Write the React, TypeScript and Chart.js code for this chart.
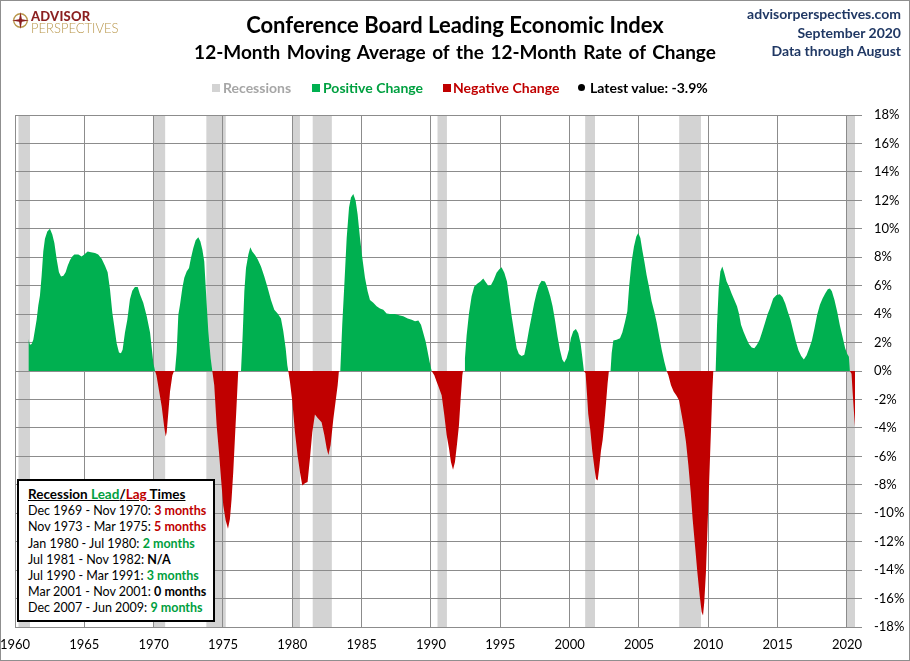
import { useEffect, useRef } from 'react';
import { Chart, registerables } from 'chart.js';

Chart.register(...registerables);

// 12-month moving average of the 12-month rate of change (%)
const years = [
  1960.96, 1961.08, 1961.2, 1961.32, 1961.44, 1961.56, 1961.68, 1961.8, 1961.92, 1962.04,
  1962.16, 1962.33, 1962.52, 1962.69, 1962.84, 1963.0, 1963.17, 1963.32, 1963.49, 1963.65,
  1963.8, 1963.97, 1964.13, 1964.28, 1964.57, 1964.8, 1965.0, 1965.24, 1965.48, 1965.77,
  1966.0, 1966.25, 1966.49, 1966.68, 1966.85, 1967.02, 1967.16, 1967.33, 1967.5, 1967.64,
  1967.76, 1967.93, 1968.1, 1968.29, 1968.46, 1968.65, 1968.85, 1969.01, 1969.25, 1969.5,
  1969.74, 1969.98, 1970.1, 1970.2, 1970.34, 1970.58, 1970.77, 1970.87, 1970.94, 1971.06,
  1971.18, 1971.35, 1971.47, 1971.54, 1971.66, 1971.78, 1971.9, 1972.07, 1972.21, 1972.38,
  1972.55, 1972.69, 1972.86, 1973.03, 1973.22, 1973.37, 1973.51, 1973.65, 1973.8, 1973.94,
  1974.11, 1974.23, 1974.37, 1974.54, 1974.71, 1974.86, 1975.02, 1975.19, 1975.36, 1975.5,
  1975.62, 1975.74, 1975.86, 1975.98, 1976.1, 1976.3, 1976.42, 1976.54, 1976.66, 1976.83,
  1976.97, 1977.11, 1977.31, 1977.5, 1977.74, 1977.98, 1978.22, 1978.46, 1978.7, 1978.94,
  1979.18, 1979.35, 1979.52, 1979.64, 1979.71, 1979.83, 1980.0, 1980.19, 1980.38, 1980.55,
  1980.72, 1980.91, 1981.1, 1981.27, 1981.44, 1981.63, 1981.83, 1982.11, 1982.31, 1982.48,
  1982.6, 1982.76, 1982.96, 1983.12, 1983.27, 1983.36, 1983.46, 1983.6, 1983.75, 1983.92,
  1984.09, 1984.23, 1984.4, 1984.57, 1984.71, 1984.88, 1985.05, 1985.24, 1985.43, 1985.6,
  1985.84, 1986.08, 1986.32, 1986.56, 1986.8, 1987.04, 1987.4, 1987.76, 1988.0, 1988.32,
  1988.61, 1988.85, 1989.09, 1989.28, 1989.45, 1989.62, 1989.76, 1989.9, 1990.05, 1990.24,
  1990.41, 1990.58, 1990.77, 1990.96, 1991.13, 1991.3, 1991.44, 1991.59, 1991.73, 1991.87,
  1992.02, 1992.14, 1992.26, 1992.31, 1992.4, 1992.45, 1992.57, 1992.74, 1992.93, 1993.12,
  1993.36, 1993.56, 1993.77, 1993.94, 1994.13, 1994.33, 1994.52, 1994.73, 1994.93, 1995.09,
  1995.29, 1995.48, 1995.62, 1995.82, 1996.01, 1996.18, 1996.34, 1996.54, 1996.73, 1996.9,
  1997.07, 1997.26, 1997.45, 1997.62, 1997.79, 1997.98, 1998.22, 1998.41, 1998.6, 1998.77,
  1998.94, 1999.13, 1999.3, 1999.47, 1999.61, 1999.78, 1999.95, 2000.09, 2000.26, 2000.45,
  2000.62, 2000.79, 2000.91, 2001.03, 2001.15, 2001.25, 2001.34, 2001.49, 2001.63, 2001.78,
  2001.9, 2002.02, 2002.14, 2002.26, 2002.38, 2002.5, 2002.62, 2002.74, 2002.83, 2002.95,
  2003.03, 2003.15, 2003.39, 2003.63, 2003.8, 2003.99, 2004.16, 2004.3, 2004.47, 2004.64,
  2004.81, 2004.95, 2005.1, 2005.24, 2005.39, 2005.55, 2005.72, 2005.91, 2006.11, 2006.27,
  2006.44, 2006.64, 2006.83, 2007.0, 2007.12, 2007.31, 2007.5, 2007.72, 2007.89, 2008.08,
  2008.25, 2008.39, 2008.56, 2008.73, 2008.87, 2009.04, 2009.21, 2009.38, 2009.52, 2009.62,
  2009.71, 2009.83, 2009.95, 2010.07, 2010.19, 2010.29, 2010.36, 2010.53, 2010.63, 2010.75,
  2010.87, 2011.01, 2011.15, 2011.32, 2011.49, 2011.68, 2011.88, 2012.07, 2012.21, 2012.36,
  2012.55, 2012.74, 2012.93, 2013.13, 2013.32, 2013.51, 2013.7, 2013.9, 2014.09, 2014.28,
  2014.44, 2014.68, 2014.92, 2015.16, 2015.35, 2015.55, 2015.74, 2015.93, 2016.12, 2016.32,
  2016.51, 2016.7, 2016.89, 2017.09, 2017.28, 2017.47, 2017.66, 2017.85, 2018.05, 2018.24,
  2018.43, 2018.62, 2018.77, 2018.91, 2019.1, 2019.3, 2019.49, 2019.68, 2019.87, 2020.02,
  2020.14, 2020.21, 2020.33, 2020.4, 2020.48, 2020.58,
];
const values = [
  2.25, 1.85, 1.9, 2.2, 2.9, 3.6, 4.6, 5.3, 6.7, 8.4,
  9.3, 9.8, 10.0, 9.6, 9.0, 7.9, 6.95, 6.65, 6.7, 6.95,
  7.4, 7.8, 8.05, 8.2, 8.2, 8.05, 8.2, 8.4, 8.35, 8.3,
  8.2, 7.9, 7.4, 6.95, 5.75, 4.1, 3.15, 1.95, 1.3, 1.25,
  1.5, 2.7, 3.6, 5.05, 5.65, 5.9, 5.9, 5.4, 4.8, 3.85,
  2.7, 0.55, 0, -0.3, -1.1, -2.5, -4.0, -4.6, -4.3, -2.9,
  -1.45, -0.3, 0, 0, 1.35, 3.95, 4.65, 5.85, 6.55, 7.0,
  7.25, 7.95, 8.65, 9.2, 9.4, 9.1, 8.55, 7.7, 5.1, 2.8,
  0.9, 0, -1.0, -3.8, -5.7, -7.6, -9.45, -10.5, -11.1, -10.4,
  -9.0, -7.1, -4.75, -2.4, 0, 0, 2.55, 5.6, 7.25, 8.2,
  8.7, 8.4, 8.15, 7.85, 7.35, 6.65, 5.85, 5.0, 4.3, 4.05,
  3.7, 2.8, 1.6, 0.4, 0, -0.75, -2.15, -4.3, -5.95, -7.1,
  -8.05, -7.9, -7.8, -6.15, -4.3, -3.05, -3.3, -3.6, -4.5, -5.45,
  -5.9, -5.2, -3.35, -2.15, -1.0, 0, 0, 3.25, 6.05, 9.35,
  11.5, 12.2, 12.45, 11.95, 11.0, 9.35, 7.95, 6.55, 5.6, 5.0,
  4.8, 4.55, 4.4, 4.3, 4.05, 4.0, 4.0, 3.9, 3.85, 3.7,
  3.6, 3.5, 3.55, 3.25, 2.65, 2.05, 1.35, 0.65, 0, -0.3,
  -0.75, -1.2, -1.7, -3.1, -4.5, -5.45, -6.4, -6.95, -6.4, -5.2,
  -3.8, -1.95, -0.3, 0, 0, 0.9, 2.5, 4.05, 5.25, 5.95,
  6.15, 6.3, 6.5, 6.25, 6.0, 6.05, 6.4, 6.9, 7.15, 7.3,
  6.9, 6.3, 5.25, 3.85, 2.65, 1.6, 1.2, 1.05, 1.15, 1.95,
  2.9, 3.85, 4.8, 5.5, 6.05, 6.35, 6.3, 5.85, 5.25, 4.55,
  3.6, 2.4, 1.5, 0.8, 0.6, 0.9, 1.5, 2.3, 2.8, 2.95,
  2.65, 1.95, 1.0, 0, -0.15, -1.6, -3.0, -4.15, -5.6, -6.75,
  -7.6, -7.7, -6.75, -5.6, -4.85, -3.7, -2.3, -0.85, 0, 0,
  1.25, 2.15, 2.2, 2.3, 2.7, 3.45, 4.2, 6.05, 7.7, 8.75,
  9.45, 9.7, 9.35, 8.5, 7.7, 6.75, 5.95, 4.9, 4.15, 3.45,
  2.55, 1.5, 0.65, 0, -0.3, -1.0, -1.45, -1.75, -2.05, -3.1,
  -4.05, -5.0, -6.6, -8.5, -10.4, -12.25, -14.15, -15.8, -16.95, -17.2,
  -16.25, -14.15, -10.85, -7.55, -4.25, -1.45, 0, 0, 3.25, 5.8,
  7.0, 7.35, 6.9, 6.3, 5.95, 5.45, 5.0, 4.55, 4.05, 3.25,
  2.75, 2.3, 1.9, 1.65, 1.6, 1.85, 2.2, 2.8, 3.4, 4.0,
  4.4, 5.1, 5.35, 5.4, 5.2, 4.75, 4.15, 3.6, 2.85, 2.05,
  1.45, 1.05, 0.8, 1.1, 1.6, 2.15, 3.0, 3.95, 4.65, 5.1,
  5.45, 5.75, 5.8, 5.6, 5.0, 4.15, 3.2, 2.4, 1.6, 1.2,
  1.0, 0, -0.2, -1.35, -2.55, -3.9,
];

// recession periods (fractional years)
const recessionStart = [1960.25, 1969.95, 1973.8, 1980.0, 1981.47, 1990.47, 2001.12, 2007.9, 2019.97];
const recessionEnd = [1961.08, 1970.83, 1975.2, 1980.55, 1982.85, 1991.15, 2001.83, 2009.47, 2020.58];

const leadLagPeriods = [
  'Dec 1969 - Nov 1970: ',
  'Nov 1973 - Mar 1975: ',
  'Jan 1980 - Jul 1980: ',
  'Jul 1981 - Nov 1982: ',
  'Jul 1990 - Mar 1991: ',
  'Mar 2001 - Nov 2001: ',
  'Dec 2007 - Jun 2009: ',
];
const leadLagTimes = ['3 months', '5 months', '2 months', 'N/A', '3 months', '0 months', '9 months'];
const leadLagColors = ['#c00000', '#c00000', '#00a040', '#000', '#00a040', '#000', '#00a040'];

const GREEN = '#00b050';
const RED = '#c00000';
const GRID = '#8c8c8c';
const FONT = 'Lato, "Open Sans", sans-serif';

const recessionBands = {
  id: 'recessionBands',
  beforeDraw(chart: Chart) {
    const { ctx, chartArea, scales } = chart;
    const x = scales.x;
    ctx.save();
    ctx.fillStyle = '#d3d3d3';
    recessionStart.forEach((s, i) => {
      const x1 = x.getPixelForValue(s);
      const x2 = Math.min(x.getPixelForValue(recessionEnd[i]), chartArea.right);
      ctx.fillRect(x1, chartArea.top, x2 - x1, chartArea.bottom - chartArea.top);
    });
    ctx.restore();
  },
};

function LeiChart() {
  const canvasRef = useRef<HTMLCanvasElement>(null);

  useEffect(() => {
    if (!canvasRef.current) return;
    const chart = new Chart(canvasRef.current, {
      type: 'line',
      data: {
        datasets: [
          {
            data: years.map((x, i) => ({ x, y: values[i] })),
            fill: { target: 'origin', above: GREEN, below: RED },
            borderWidth: 0,
            borderColor: 'transparent',
            pointRadius: 0,
            tension: 0,
          },
        ],
      },
      options: {
        animation: false,
        responsive: false,
        layout: { padding: { left: 15, top: 115, right: 0, bottom: 0 } },
        plugins: { legend: { display: false }, tooltip: { enabled: false } },
        scales: {
          x: {
            type: 'linear',
            min: 1960,
            max: 2020.58,
            afterFit: (s: any) => {
              s.height = 34;
              s.paddingLeft = 0;
              s.paddingRight = 0;
            },
            ticks: {
              stepSize: 5,
              includeBounds: false,
              autoSkip: false,
              maxRotation: 0,
              padding: 10,
              color: '#000',
              font: { family: FONT, size: 13 },
              callback: (v: any) => String(v),
            },
            grid: { color: GRID, lineWidth: 1, drawTicks: false },
            border: { display: false },
          },
          y: {
            position: 'right',
            min: -18,
            max: 18,
            afterFit: (s: any) => {
              s.width = 55;
              s.paddingTop = 0;
              s.paddingBottom = 0;
            },
            ticks: {
              stepSize: 2,
              padding: 12,
              color: '#000',
              font: { family: FONT, size: 13 },
              callback: (v: any) => v + '%',
            },
            grid: { color: GRID, lineWidth: 1, tickLength: 7 },
            border: { display: false },
          },
        },
      },
      plugins: [recessionBands],
    });
    return () => chart.destroy();
  }, []);

  return <canvas ref={canvasRef} width={910} height={661} style={{ position: 'absolute', left: 0, top: 0 }} />;
}

const abs = (style: React.CSSProperties): React.CSSProperties => ({ position: 'absolute', whiteSpace: 'nowrap', ...style });

export default function App() {
  return (
    <div style={{ position: 'fixed', left: 0, top: 0, width: 910, height: 661, background: '#fff', fontFamily: FONT, overflow: 'hidden' }}>
      <LeiChart />
      <div style={abs({ left: 0, top: 0, width: 910, height: 661, boxSizing: 'border-box', border: '1px solid #8f8f8f', pointerEvents: 'none' })} />

      {/* logo */}
      <svg style={abs({ left: 12, top: 12 })} width={17} height={17} viewBox="0 0 20 20">
        <circle cx="10" cy="10" r="8" fill="none" stroke="#b8964a" strokeWidth="1.6" />
        <polygon points="10,0 11.6,8.4 20,10 11.6,11.6 10,20 8.4,11.6 0,10 8.4,8.4" fill="#8b1f1f" />
      </svg>
      <div style={abs({ left: 31, top: 9, fontSize: 13, fontWeight: 900, color: '#8b1f1f', lineHeight: '14px', letterSpacing: 0.2 })}>ADVISOR</div>
      <div style={abs({ left: 31, top: 21, fontSize: 13, fontWeight: 300, color: '#b8964a', lineHeight: '14px' })}>PERSPECTIVES</div>

      {/* titles */}
      <div style={abs({ left: 0, top: 11, width: 910, textAlign: 'center', fontSize: 22, fontWeight: 700, lineHeight: '28px' })}>
        Conference Board Leading Economic Index
      </div>
      <div style={abs({ left: 0, top: 40, width: 910, textAlign: 'center', fontSize: 19, fontWeight: 700, lineHeight: '24px', wordSpacing: 2 })}>
        12-Month Moving Average of the 12-Month Rate of Change
      </div>
      <div style={abs({ right: 9, top: 5, textAlign: 'right', fontSize: 14, fontWeight: 700, color: '#203864', lineHeight: '18.5px' })}>
        advisorperspectives.com<br />September 2020<br />Data through August
      </div>

      {/* legend */}
      <div style={abs({ left: 0, top: 79, width: 910, height: 18, fontSize: 14, fontWeight: 700, lineHeight: '18px' })}>
        <span style={abs({ left: 212, top: 5, width: 8, height: 8, background: '#d3d3d3' })} />
        <span style={abs({ left: 223, top: 0, color: '#a6a6a6' })}>Recessions</span>
        <span style={abs({ left: 312, top: 5, width: 8, height: 8, background: GREEN })} />
        <span style={abs({ left: 323, top: 0, color: '#00a040' })}>Positive Change</span>
        <span style={abs({ left: 443, top: 5, width: 8, height: 8, background: RED })} />
        <span style={abs({ left: 453, top: 0, color: RED })}>Negative Change</span>
        <span style={abs({ left: 578, top: 5, width: 7, height: 7, borderRadius: 4, background: '#000' })} />
        <span style={abs({ left: 590, top: 0, color: '#000' })}>Latest value: -3.9%</span>
      </div>

      {/* lead/lag box */}
      <div style={abs({ left: 17, top: 479, width: 198, height: 143, boxSizing: 'border-box', border: '2px solid #000', background: '#fff', padding: '5px 0 0 9px', fontSize: 12.5, lineHeight: '16.2px' })}>
        <div style={{ fontWeight: 700, fontSize: 13.5, textDecoration: 'underline', marginBottom: 1 }}>
          Recession <span style={{ color: '#00a040' }}>Lead</span>/<span style={{ color: RED }}>Lag</span> Times
        </div>
        {leadLagPeriods.map((p, i) => (
          <div key={p}>
            {p}
            <span style={{ fontWeight: 700, color: leadLagColors[i] }}>{leadLagTimes[i]}</span>
          </div>
        ))}
      </div>
    </div>
  );
}
